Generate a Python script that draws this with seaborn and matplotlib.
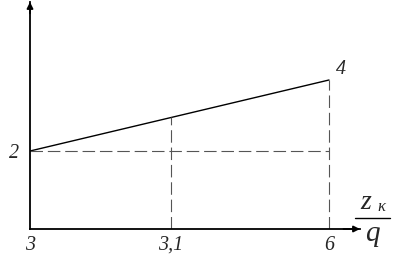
import matplotlib
matplotlib.use('Agg')
import matplotlib.pyplot as plt
from matplotlib.lines import Line2D
import seaborn as sns
import pandas as pd

# data (schematic chart)
x_labels = ['3', '3,1', '6']
x_pos = [0.0, 0.4716, 1.0]          # schematic positions of the tick labels
line_y = [2, 4]                     # line values at first and last label
mid_y = 2.95                        # line value at the middle label
y_labels = ['2']
end_label = '4'

sns.set_style('white')
plt.rcParams['lines.scale_dashes'] = False

W, H = 396, 263
fig = plt.figure(figsize=(W / 100, H / 100), dpi=100)
ax = fig.add_axes([30 / W, (H - 229) / H, 330 / W, 227 / H])
ylo, yhi = -0.197, 6.197
ax.set_xlim(0, 330 / 299)
ax.set_ylim(ylo, yhi)

df = pd.DataFrame({'x': [x_pos[0], x_pos[2]], 'y': line_y})
sns.lineplot(data=df, x='x', y='y', ax=ax, color='black', lw=1.0)

dash = dict(color='#555555', lw=0.8, dashes=(9, 3.5))
ax.plot([x_pos[0], x_pos[2]], [line_y[0], line_y[0]], **dash)
ax.plot([x_pos[1], x_pos[1]], [ylo, mid_y], **dash)
ax.plot([x_pos[2], x_pos[2]], [ylo, line_y[1]], **dash)

for s in ['top', 'right']:
    ax.spines[s].set_visible(False)
for s in ['left', 'bottom']:
    ax.spines[s].set_linewidth(1.3)
    ax.spines[s].set_color('black')

ax.annotate('', xy=(1.0, 0), xytext=(0.95, 0), xycoords='axes fraction',
            arrowprops=dict(arrowstyle='-|>', lw=1.3, color='black', mutation_scale=9,
                            shrinkA=0, shrinkB=0))
ax.annotate('', xy=(0, 1.0), xytext=(0, 0.95), xycoords='axes fraction',
            arrowprops=dict(arrowstyle='-|>', lw=1.3, color='black', mutation_scale=9,
                            shrinkA=0, shrinkB=0))

tfont = dict(family='Liberation Serif', style='italic', size=14.5)
ax.set_xticks(x_pos, x_labels)
ax.set_yticks([line_y[0]], y_labels)
ax.tick_params(axis='x', length=0, pad=5)
ax.tick_params(axis='y', length=0, pad=8)
for lab in ax.get_xticklabels() + ax.get_yticklabels():
    lab.set_fontfamily('Liberation Serif')
    lab.set_fontstyle('italic')
    lab.set_fontsize(14.5)
ax.set_xlabel('')
ax.set_ylabel('')

ax.annotate(end_label, xy=(x_pos[2], line_y[1]), xytext=(5, 1), textcoords='offset points',
            ha='left', va='bottom', **tfont)

def fx(px):
    return px / W

def fy(py):
    return 1 - py / H

sfont = dict(family='Liberation Serif', style='italic')
fig.text(fx(366), fy(209), 'z', ha='center', va='baseline', size=20, **sfont)
fig.text(fx(381), fy(211), 'κ', ha='center', va='baseline', size=12, **sfont)
fig.add_artist(Line2D([fx(355), fx(390)], [fy(218), fy(218)], color='black', lw=1.0,
                      transform=fig.transFigure))
fig.text(fx(372), fy(241), 'q', ha='center', va='baseline', size=21, **sfont)

fig.savefig('out.png', dpi=100)
